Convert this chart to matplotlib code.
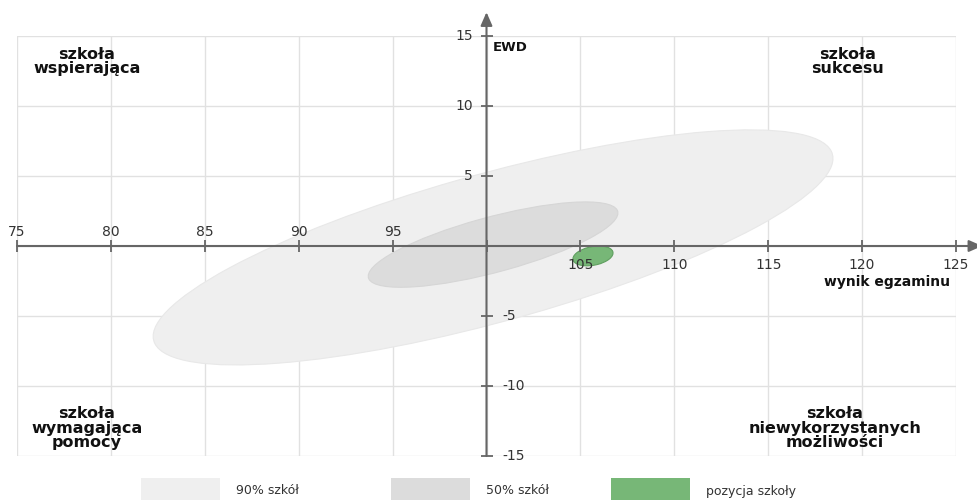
import numpy as np
import matplotlib
matplotlib.use("Agg")
import matplotlib.pyplot as plt
from matplotlib.patches import Ellipse, Rectangle

# ---- data ----
x_ticks_left = [75, 80, 85, 90, 95]
x_ticks_right = [105, 110, 115, 120, 125]
y_ticks_pos = [15, 10, 5]
y_ticks_neg = [-5, -10, -15]

# ellipses: centre and covariance-like shape (var_x, cov_xy, var_y)
ell_names = ["90% szkół", "50% szkół", "pozycja szkoły"]
ell_cx = [100.35, 100.35, 105.67]
ell_cy = [-0.1, 0.1, -0.71]
ell_vx = [327.6, 44.2, 1.14]
ell_cxy = [115.0, 15.0, 0.225]
ell_vy = [70.5, 9.3, 0.5]
ell_face = ["#efefef", "#dcdcdc", "#77b777"]
ell_edge = ["#e8e8e8", "#d6d6d6", "#5f9f5f"]

quad_labels = ["szkoła\nwspierająca", "szkoła\nsukcesu",
               "szkoła\nwymagająca\npomocy", "szkoła\nniewykorzystanych\nmożliwości"]

W, H = 977, 500
fig = plt.figure(figsize=(W / 100, H / 100), dpi=100)
ax = fig.add_axes([17 / W, 44 / H, 939 / W, 420 / H])
ax.set_xlim(75, 125)
ax.set_ylim(-15, 15)
ax.axis("off")

# grid
for gx in range(75, 126, 5):
    ax.plot([gx, gx], [-15, 15], color="#e1e1e1", lw=1, zorder=1)
for gy in range(-15, 16, 5):
    ax.plot([75, 125], [gy, gy], color="#e1e1e1", lw=1, zorder=1)

# ellipses
for i in range(3):
    M = np.array([[ell_vx[i], ell_cxy[i]], [ell_cxy[i], ell_vy[i]]])
    vals, vecs = np.linalg.eigh(M)
    major = vecs[:, 1]
    ang = np.degrees(np.arctan2(major[1], major[0]))
    e = Ellipse((ell_cx[i], ell_cy[i]), 2 * np.sqrt(vals[1]), 2 * np.sqrt(vals[0]),
                angle=ang, facecolor=ell_face[i], edgecolor=ell_edge[i],
                lw=0.8, zorder=2 + i)
    ax.add_patch(e)

axc = "#666666"
# axes lines with arrows
ax.annotate("", xy=(126.4, 0), xytext=(75, 0),
            arrowprops=dict(arrowstyle="-|>,head_length=0.8,head_width=0.35",
                            color=axc, lw=1.5, shrinkA=0, shrinkB=0),
            annotation_clip=False, zorder=6)
ax.annotate("", xy=(100, 16.7), xytext=(100, -15),
            arrowprops=dict(arrowstyle="-|>,head_length=0.8,head_width=0.35",
                            color=axc, lw=1.5, shrinkA=0, shrinkB=0),
            annotation_clip=False, zorder=6)

# tick marks
xt = x_ticks_left + [100] + x_ticks_right
ax.plot(xt, [0] * len(xt), ls="none", marker="|", ms=9, mew=1.3, color=axc, zorder=7, clip_on=False)
yt = y_ticks_pos + [0] + y_ticks_neg
ax.plot([100] * len(yt), yt, ls="none", marker="_", ms=9, mew=1.3, color=axc, zorder=7, clip_on=False)

tc = "#333333"
fs = 10
for v in x_ticks_left:
    ax.text(v, 1.0, str(v), ha="center", va="center", fontsize=fs, color=tc, zorder=8)
for v in x_ticks_right:
    ax.text(v, -1.35, str(v), ha="center", va="center", fontsize=fs, color=tc, zorder=8)
for v in y_ticks_pos:
    ax.text(99.26, v, str(v), ha="right", va="center", fontsize=fs, color=tc, zorder=8)
for v in y_ticks_neg:
    ax.text(100.85, v, str(v), ha="left", va="center", fontsize=fs, color=tc, zorder=8)

ax.text(100.35, 14.2, "EWD", ha="left", va="center", fontsize=9.5, fontweight="bold", color="#111111")
ax.text(124.7, -2.6, "wynik egzaminu", ha="right", va="center", fontsize=10, fontweight="bold", color="#111111")

# quadrant labels (positions in data units)
qx = [78.73, 119.2, 78.73, 118.56]
qy = [13.18, 13.18, -13.0, -13.0]
for lab, x, y in zip(quad_labels, qx, qy):
    ax.text(x, y, lab, ha="center", va="center", fontsize=11.5, fontweight="bold",
            color="#111111", linespacing=0.95)

# legend
leg_x = [141, 391, 611]
for i in range(3):
    fig.patches.append(Rectangle((leg_x[i] / W, 0), 79 / W, 22 / H,
                                 transform=fig.transFigure, facecolor=ell_face[i],
                                 edgecolor="none"))
    fig.text((leg_x[i] + 95) / W, 9 / H, ell_names[i], ha="left", va="center",
             fontsize=9, color=tc)

fig.savefig("out.png", dpi=100)
